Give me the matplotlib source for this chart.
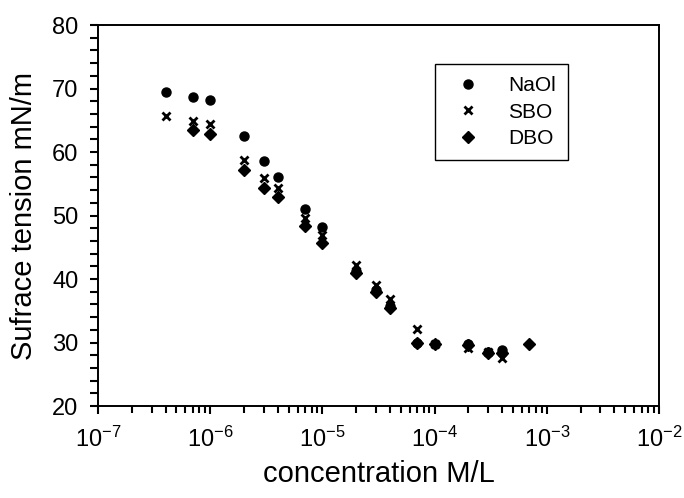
import matplotlib
matplotlib.use("Agg")
import matplotlib.pyplot as plt
from matplotlib.ticker import LogLocator, MultipleLocator, LogFormatterSciNotation

plt.rcParams['font.family'] = ['Liberation Sans', 'DejaVu Sans']
plt.rcParams['mathtext.fontset'] = 'custom'
plt.rcParams['mathtext.rm'] = 'Liberation Sans'
plt.rcParams['mathtext.it'] = 'Liberation Sans:italic'
plt.rcParams['mathtext.bf'] = 'Liberation Sans:bold'
plt.rcParams['mathtext.default'] = 'regular'

# Data
naol_conc = [4e-7, 7e-7, 1e-6, 2e-6, 3e-6, 4e-6, 7e-6, 1e-5, 2e-5, 3e-5, 4e-5, 7e-5, 1e-4, 2e-4, 3e-4, 4e-4]
naol_st = [69.5, 68.7, 68.2, 62.5, 58.6, 56.1, 51.1, 48.2, 41.3, 38.3, 35.8, 30.0, 29.8, 29.8, 28.5, 28.8]

sbo_conc = [4e-7, 7e-7, 1e-6, 2e-6, 3e-6, 4e-6, 7e-6, 1e-5, 2e-5, 3e-5, 4e-5, 7e-5, 1e-4, 2e-4, 3e-4, 4e-4]
sbo_st = [65.7, 64.9, 64.4, 58.7, 55.9, 54.3, 49.6, 47.0, 42.2, 39.0, 36.8, 32.2, 29.8, 29.2, 28.5, 27.6]

dbo_conc = [7e-7, 1e-6, 2e-6, 3e-6, 4e-6, 7e-6, 1e-5, 2e-5, 3e-5, 4e-5, 7e-5, 1e-4, 2e-4, 3e-4, 4e-4, 7e-4]
dbo_st = [63.4, 62.9, 57.1, 54.3, 52.9, 48.3, 45.6, 41.0, 38.0, 35.5, 30.0, 29.7, 29.6, 28.4, 28.3, 29.7]

series_labels = ['NaOl', 'SBO', 'DBO']

W, H = 684, 498
fig = plt.figure(figsize=(W / 100, H / 100), dpi=100)
ax = fig.add_axes([98 / W, 1 - 406 / H, (659 - 98) / W, (406 - 25) / H])

ax.plot(naol_conc, naol_st, linestyle='none', marker='o', markersize=6.5,
        color='black', label=series_labels[0])
ax.plot(sbo_conc, sbo_st, linestyle='none', marker='x', markersize=6,
        markeredgewidth=2, color='black', label=series_labels[1])
ax.plot(dbo_conc, dbo_st, linestyle='none', marker='D', markersize=6.5,
        color='black', label=series_labels[2])

ax.set_xscale('log')
ax.set_xlim(1e-7, 1e-2)
ax.set_ylim(20, 80)
ax.xaxis.set_major_locator(LogLocator(base=10, numticks=10))
ax.xaxis.set_minor_locator(LogLocator(base=10, subs=range(2, 10), numticks=100))
ax.xaxis.set_major_formatter(LogFormatterSciNotation())
ax.yaxis.set_major_locator(MultipleLocator(10))
ax.yaxis.set_minor_locator(MultipleLocator(2))

for s in ax.spines.values():
    s.set_linewidth(1.4)
    s.set_color('black')

ax.tick_params(axis='both', which='both', direction='out', top=False, right=False,
               color='black', width=1.5)
ax.tick_params(axis='y', which='major', length=6, labelsize=17, pad=8)
ax.tick_params(axis='y', which='minor', length=6)
ax.tick_params(axis='x', which='major', length=6, labelsize=17, pad=9)
ax.tick_params(axis='x', which='minor', length=5)

ax.set_xlabel('concentration M/L', fontsize=21, labelpad=6)
ax.set_ylabel('Sufrace tension mN/m', fontsize=21, labelpad=10)

leg = ax.legend(loc='upper left', bbox_to_anchor=(0.601, 0.898), fontsize=15,
                frameon=True, fancybox=False, edgecolor='black', framealpha=1,
                handlelength=2.0, handletextpad=0.9, borderpad=0.6,
                labelspacing=0.35, borderaxespad=0)
leg.get_frame().set_linewidth(1.0)

fig.savefig('out.png', dpi=100)
